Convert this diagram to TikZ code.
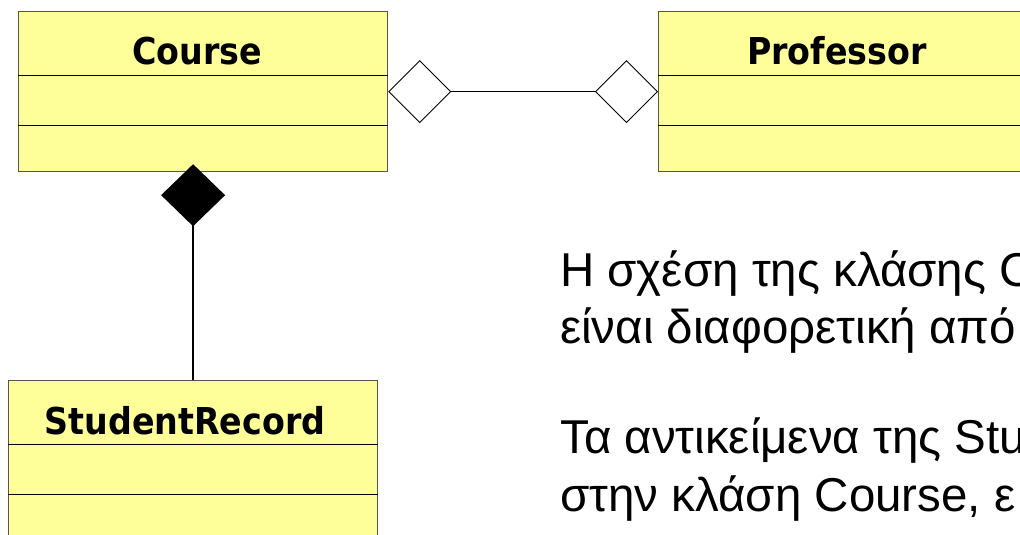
\documentclass[tikz,border=0pt]{standalone}
\usepackage{fontspec}
\setmainfont{Liberation Sans}
\newfontfamily\clsfont{DejaVu Sans Condensed Bold}
\usetikzlibrary{arrows.meta}
\definecolor{clsfill}{HTML}{FFFF99}
\definecolor{clsline}{HTML}{555555}

\begin{document}
\def\W{369}
\def\H{160}

\begin{tikzpicture}[x=1pt,y=-1pt]
    \tikzset{
      cls/.style={draw=clsline,line width=1.2pt,fill=clsfill,inner sep=0pt,
        minimum width=\W pt,minimum height=\H pt,anchor=north west},
      clsname/.style={font=\clsfont\fontsize{37}{42}\selectfont,anchor=base},
      part/.style={line width=0.9pt},
      aggr/.style={line width=1.3pt,
        {Diamond[open,length=63pt,width=63pt,line width=0.9pt,fill=white]}-{Diamond[open,length=63pt,width=63pt,line width=0.9pt,fill=white]}},
      comp/.style={line width=1.3pt,{Diamond[length=62pt,width=64pt]}-},
      note/.style={font=\fontsize{47.5}{57.5}\selectfont,align=left,anchor=base west,inner sep=0pt}
    }
    \useasboundingbox (0,0) rectangle (1020,535);
    \clip (0,0) rectangle (1020,535);

    \node[cls] (course) at (18,11) {};
    \node[cls] (professor) at (658,11) {};
    \node[cls,minimum height=180pt] (record) at (8,380) {};

    \foreach \c in {course,professor,record} {
      \draw[part] ([yshift=-64pt]\c.north west) -- ([yshift=-64pt]\c.north east);
      \draw[part] ([yshift=-114pt]\c.north west) -- ([yshift=-114pt]\c.north east);
    }

    \node[clsname] (coursename) at (197,64) {Course};
    \node[clsname] (professorname) at (837,64) {Professor};
    \node[clsname] (recordname) at (185,434) {StudentRecord};

    \draw[aggr] (course.east) -- (professor.west);
    \draw[comp] ([yshift=8pt]record.north |- course.south) -- (record.north);

    % anchor is the baseline of the last line
    \node[note] (remark) at (560,511) {Η σχέση της κλάσης C\\
      είναι διαφορετική από\\[52.5pt]
      Τα αντικείμενα της Stu\\
      στην κλάση Course, ε};
  \end{tikzpicture}
\end{document}
